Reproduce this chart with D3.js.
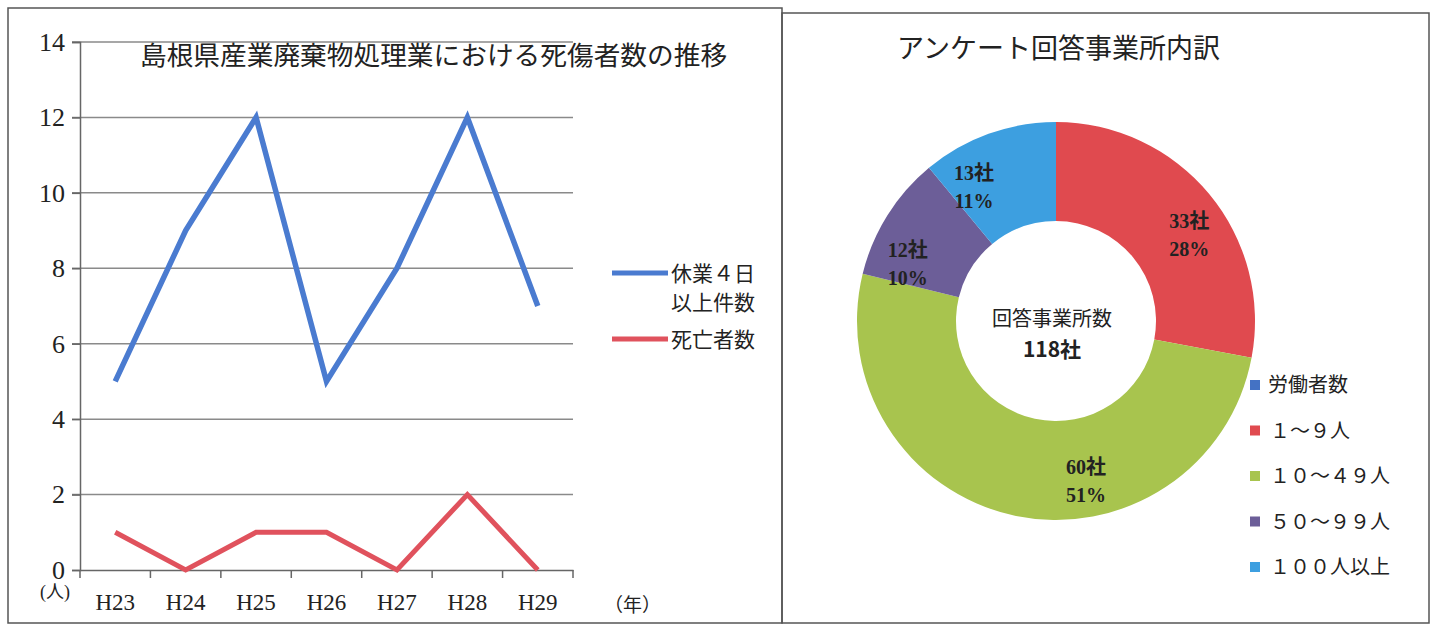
<!DOCTYPE html>
<html>
<head>
<meta charset="utf-8">
<script src="https://cdn.jsdelivr.net/npm/d3@7"></script>
<style>
  body { margin: 0; background: #fff; }
  svg text { fill: #222; }
</style>
</head>
<body>
<svg id="chart" width="1437" height="627"></svg>
<script>
// left chart data
let years = ["H23", "H24", "H25", "H26", "H27", "H28", "H29"];
let injuries = [5, 9, 12, 5, 8, 12, 7];   // 休業4日以上件数
let deaths = [1, 0, 1, 1, 0, 2, 0];       // 死亡者数
let yTicks = [0, 2, 4, 6, 8, 10, 12, 14];

// right chart data
let sizeLabels = ["１～９人", "１０～４９人", "５０～９９人", "１００人以上"];
let sizeCounts = [33, 60, 12, 13];
let sizePercents = ["28%", "51%", "10%", "11%"];
let totalCount = 118;

const jp = "'Noto Sans CJK JP', 'Noto Sans', sans-serif";
const serif = "'Liberation Serif', 'Noto Sans CJK JP', serif";

let svg = d3.select("#chart");

// panel frames
svg.append("rect").attr("x", 8).attr("y", 8).attr("width", 774).attr("height", 615)
    .attr("fill", "none").attr("stroke", "#555").attr("stroke-width", 1.5);
svg.append("rect").attr("x", 782).attr("y", 13).attr("width", 647).attr("height", 610)
    .attr("fill", "none").attr("stroke", "#555").attr("stroke-width", 1.5);

// ---------- line chart ----------
let xScale = d3.scaleBand().domain(years).range([80, 573]);
let yScale = d3.scaleLinear().domain([0, 14]).range([570, 42]);
let xc = d => xScale(d) + xScale.bandwidth() / 2;

let left = svg.append("g");

// gridlines
left.selectAll(".grid")
    .data(yTicks.filter(d => d > 0))
    .enter().append("line")
    .attr("x1", 72).attr("x2", 573)
    .attr("y1", d => yScale(d)).attr("y2", d => yScale(d))
    .attr("stroke", "#8a8a8a").attr("stroke-width", 1.5);

let yAxis = d3.axisLeft(yScale).tickValues(yTicks).tickSize(8).tickFormat(d3.format("d"));
let yG = left.append("g").attr("transform", "translate(80,0)").call(yAxis)
    .attr("font-family", null);
yG.select(".domain").attr("stroke", "#666").attr("stroke-width", 1.5);
yG.selectAll(".tick line").attr("stroke", "#666").attr("stroke-width", 1.5);
yG.selectAll(".tick text")
    .attr("x", -15)
    .style("font-family", serif).style("font-size", "26px").attr("fill", "#222");

let xAxis = d3.axisBottom(xScale).tickSize(0);
let xG = left.append("g").attr("transform", "translate(0,570)").call(xAxis)
    .attr("font-family", null);
xG.select(".domain").attr("stroke", "#666").attr("stroke-width", 1.5);
xG.selectAll(".tick text")
    .attr("y", 24)
    .style("font-family", serif).style("font-size", "23px").attr("fill", "#222");

// boundary ticks on x axis
left.selectAll(".xtick")
    .data(years.concat(["end"]))
    .enter().append("line")
    .attr("x1", (d, i) => i < years.length ? xScale(d) : xScale.range()[1])
    .attr("x2", (d, i) => i < years.length ? xScale(d) : xScale.range()[1])
    .attr("y1", 570).attr("y2", 578)
    .attr("stroke", "#666").attr("stroke-width", 1.5);

let line = d3.line().x((d, i) => xc(years[i])).y(d => yScale(d));

left.append("path").datum(injuries)
    .attr("d", line).attr("fill", "none")
    .attr("stroke", "#4a7bd0").attr("stroke-width", 5.5).attr("stroke-linejoin", "miter");
left.append("path").datum(deaths)
    .attr("d", line).attr("fill", "none")
    .attr("stroke", "#e0525d").attr("stroke-width", 5).attr("stroke-linejoin", "miter");

left.append("text").attr("x", 140).attr("y", 65)
    .style("font-family", jp).style("font-size", "26.7px")
    .text("島根県産業廃棄物処理業における死傷者数の推移");

left.append("text").attr("x", 40).attr("y", 598)
    .style("font-family", serif).style("font-size", "18px").attr("fill", "#444")
    .text("(人)");
left.append("text").attr("x", 604).attr("y", 612)
    .style("font-family", jp).style("font-size", "19px")
    .text("（年）");

// legend
let legend = left.append("g");
legend.append("line").attr("x1", 612).attr("x2", 668).attr("y1", 273).attr("y2", 273)
    .attr("stroke", "#4a7bd0").attr("stroke-width", 5);
legend.append("text").attr("x", 671).attr("y", 281)
    .style("font-family", jp).style("font-size", "21px").text("休業４日");
legend.append("text").attr("x", 671).attr("y", 310)
    .style("font-family", jp).style("font-size", "21px").text("以上件数");
legend.append("line").attr("x1", 612).attr("x2", 668).attr("y1", 339).attr("y2", 339)
    .attr("stroke", "#e0525d").attr("stroke-width", 5);
legend.append("text").attr("x", 671).attr("y", 347)
    .style("font-family", jp).style("font-size", "21px").text("死亡者数");

// ---------- donut chart ----------
let colors = ["#e04a4f", "#a8c44e", "#6c5e98", "#3d9fe0"];
let labelShift = [6, -23, -10, -11]; // degrees, nudges labels like the original
let cx = 1056, cy = 321, outerR = 199, innerR = 100;

let right = svg.append("g").attr("transform", "translate(" + cx + "," + cy + ")");

let pie = d3.pie().sort(null).value(d => d);
let arcs = pie(sizeCounts);
let arc = d3.arc().innerRadius(innerR).outerRadius(outerR);

right.selectAll(".slice")
    .data(arcs)
    .enter().append("path")
    .attr("d", arc)
    .attr("fill", (d, i) => colors[i]);

let labelR = 160;
let labels = right.selectAll(".lbl")
    .data(arcs)
    .enter().append("text")
    .attr("transform", (d, i) => {
        let a = (d.startAngle + d.endAngle) / 2 + labelShift[i] * Math.PI / 180;
        return "translate(" + (labelR * Math.sin(a)) + "," + (-labelR * Math.cos(a)) + ")";
    })
    .attr("text-anchor", "middle")
    .style("font-family", serif).style("font-size", "20px").style("font-weight", "bold");
labels.append("tspan").attr("x", 0).attr("y", -4).text(d => d.data + "社");
labels.append("tspan").attr("x", 0).attr("y", 24).text((d, i) => sizePercents[i]);

right.append("text").attr("x", -4).attr("y", 5).attr("text-anchor", "middle")
    .style("font-family", jp).style("font-size", "20px").text("回答事業所数");
right.append("text").attr("x", -4).attr("y", 36).attr("text-anchor", "middle")
    .style("font-family", jp).style("font-size", "21px").style("font-weight", "bold")
    .text(totalCount + "社");

svg.append("text").attr("x", 897).attr("y", 58)
    .style("font-family", jp).style("font-size", "27px")
    .text("アンケート回答事業所内訳");

// legend
let legendItems = [{label: "労働者数", color: "#4472c4"}]
    .concat(sizeLabels.map((d, i) => ({label: d, color: colors[i]})));
let rl = svg.append("g");
rl.selectAll("rect")
    .data(legendItems)
    .enter().append("rect")
    .attr("x", 1250).attr("y", (d, i) => 385 + i * 45.5 - 5)
    .attr("width", 10).attr("height", 10)
    .attr("fill", d => d.color);
rl.selectAll("text")
    .data(legendItems)
    .enter().append("text")
    .attr("x", (d, i) => i === 0 ? 1268 : 1270)
    .attr("y", (d, i) => 385 + i * 45.5 + 7)
    .style("font-family", jp).style("font-size", "20px")
    .text(d => d.label);
</script>
</body>
</html>
